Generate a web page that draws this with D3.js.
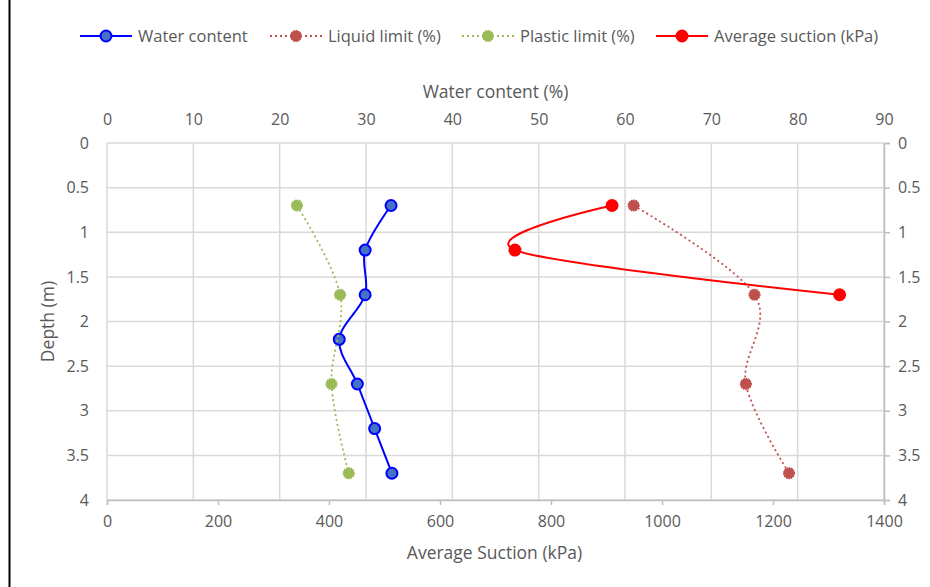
<!DOCTYPE html>
<html>
<head>
<meta charset="utf-8">
<script src="https://cdn.jsdelivr.net/npm/d3@7"></script>
<style>
  body { margin: 0; background: #fff; }
  text { font-family: "Open Sans", sans-serif; fill: #595959; }
</style>
</head>
<body>
<div id="chart"></div>
<script>
// depth of each sample (m)
var depthAll = [0.7, 1.2, 1.7, 2.2, 2.7, 3.2, 3.7];
var waterContent = [32.9, 29.9, 29.9, 26.9, 29.0, 31.0, 33.0];

var depthLimits = [0.7, 1.7, 2.7, 3.7];
var liquidLimit = [61, 75, 74, 79];
var plasticLimit = [22, 27, 26, 28];

var depthSuction = [0.7, 1.2, 1.7];
var suction = [910, 735, 1320];

var wcTicks = [0, 10, 20, 30, 40, 50, 60, 70, 80, 90];
var suctionTicks = [0, 200, 400, 600, 800, 1000, 1200, 1400];
var depthTicks = [0, 0.5, 1, 1.5, 2, 2.5, 3, 3.5, 4];

var W = 930, H = 587;
var plotL = 107, plotR = 884, plotT = 143, plotB = 500;

var svg = d3.select('#chart').append('svg')
  .attr('width', W)
  .attr('height', H);

// outer frame line on the left
svg.append("line")
  .attr("x1", 9.5).attr("x2", 9.5)
  .attr("y1", 0).attr("y2", H)
  .attr("stroke", "#000").attr("stroke-width", 2);

var x = d3.scaleLinear().domain([0, 90]).range([plotL, plotR]);
var xs = d3.scaleLinear().domain([0, 1400]).range([plotL, plotR]);
var y = d3.scaleLinear().domain([0, 4]).range([plotT, plotB]);

// gridlines
svg.append("g").selectAll("line")
  .data(depthTicks)
  .enter().append("line")
  .attr("x1", plotL).attr("x2", plotR)
  .attr("y1", function(d){ return y(d); })
  .attr("y2", function(d){ return y(d); })
  .attr("stroke", "#d9d9d9").attr("stroke-width", 1.5);

svg.append("g").selectAll("line")
  .data(wcTicks)
  .enter().append("line")
  .attr("x1", function(d){ return x(d); })
  .attr("x2", function(d){ return x(d); })
  .attr("y1", plotT).attr("y2", plotB)
  .attr("stroke", "#d9d9d9").attr("stroke-width", 1.5);

// axes
var bottomAxis = svg.append("g")
  .attr("transform", "translate(0," + plotB + ")")
  .call(d3.axisBottom(xs).tickValues(suctionTicks).tickSize(5).tickPadding(11)
    .tickFormat(d3.format("d")));
var rightAxis = svg.append("g")
  .attr("transform", "translate(" + plotR + ",0)")
  .call(d3.axisRight(y).tickValues(depthTicks).tickSize(6).tickPadding(8)
    .tickFormat(function(d){ return d; }));
var leftAxis = svg.append("g")
  .attr("transform", "translate(" + plotL + ",0)")
  .call(d3.axisLeft(y).tickValues(depthTicks).tickSize(0).tickPadding(18)
    .tickFormat(function(d){ return d; }));
var topAxis = svg.append("g")
  .attr("transform", "translate(0," + plotT + ")")
  .call(d3.axisTop(x).tickValues(wcTicks).tickSize(0).tickPadding(18));

[bottomAxis, rightAxis, leftAxis, topAxis].forEach(function(a){
  a.selectAll("path").attr("stroke", "#bfbfbf").attr("stroke-width", 1.5);
  a.selectAll("line").attr("stroke", "#bfbfbf").attr("stroke-width", 1.5);
  a.selectAll("text").style("font-size", "16px").attr("fill", "#595959")
    .style("font-family", "'Open Sans', sans-serif");
});
leftAxis.select("path").remove();
topAxis.select("path").remove();

// axis titles
svg.append("text").attr("x", (plotL + plotR) / 2).attr("y", 98)
  .attr("text-anchor", "middle").style("font-size", "17.5px")
  .text("Water content (%)");
svg.append("text").attr("x", (plotL + plotR) / 2 - 1).attr("y", 559)
  .attr("text-anchor", "middle").style("font-size", "17.5px")
  .text("Average Suction (kPa)");
svg.append("text")
  .attr("transform", "translate(54," + (plotT + plotB) / 2 + ") rotate(-90)")
  .attr("text-anchor", "middle").style("font-size", "17.5px")
  .text("Depth (m)");

// series
var series = [
  { name: "Water content", xs: waterContent, ds: depthAll, sx: x, color: "#0000ff",
    fill: "#4472c4", dash: null, width: 2, r: 5.5, star: false },
  { name: "Liquid limit (%)", xs: liquidLimit, ds: depthLimits, sx: x, color: "#c0504d",
    fill: "#c0504d", dash: "2,3", width: 1.8, r: 5.5, star: true },
  { name: "Plastic limit (%)", xs: plasticLimit, ds: depthLimits, sx: x, color: "#9bbb59",
    fill: "#9bbb59", dash: "2,3", width: 1.8, r: 5.5, star: true },
  { name: "Average suction (kPa)", xs: suction, ds: depthSuction, sx: xs, color: "#ff0000",
    fill: "#ff0000", dash: null, width: 2, r: 5.5, star: false }
];

var line = d3.line().curve(d3.curveCatmullRom.alpha(0))
  .x(function(d){ return d[0]; }).y(function(d){ return d[1]; });

function drawMarker(g, s, cx, cy) {
  if (s.star) {
    g.append("circle").attr("cx", cx).attr("cy", cy).attr("r", s.r)
      .attr("fill", s.fill).attr("stroke", s.fill).attr("stroke-width", 1.2)
      .attr("stroke-dasharray", "1.5,1");
  } else {
    g.append("circle").attr("cx", cx).attr("cy", cy).attr("r", s.r)
      .attr("fill", s.fill).attr("stroke", s.color).attr("stroke-width", 2);
  }
}

series.forEach(function(s){
  var pts = s.xs.map(function(v, i){ return [s.sx(v), y(s.ds[i])]; });
  var g = svg.append("g");
  g.append("path").attr("d", line(pts))
    .attr("fill", "none").attr("stroke", s.color)
    .attr("stroke-width", s.width)
    .attr("stroke-dasharray", s.dash);
  pts.forEach(function(p){ drawMarker(g, s, p[0], p[1]); });
});

// legend
var legendX = [80, 270, 462, 656];
series.forEach(function(s, i){
  var g = svg.append("g").attr("transform", "translate(" + legendX[i] + ",36)");
  g.append("line").attr("x1", 0).attr("x2", 52).attr("y1", 0).attr("y2", 0)
    .attr("stroke", s.color).attr("stroke-width", s.width)
    .attr("stroke-dasharray", s.dash);
  drawMarker(g, s, 26, 0);
  g.append("text").attr("x", 58).attr("y", 5.5).style("font-size", "16.5px")
    .text(s.name);
});
</script>
</body>
</html>
